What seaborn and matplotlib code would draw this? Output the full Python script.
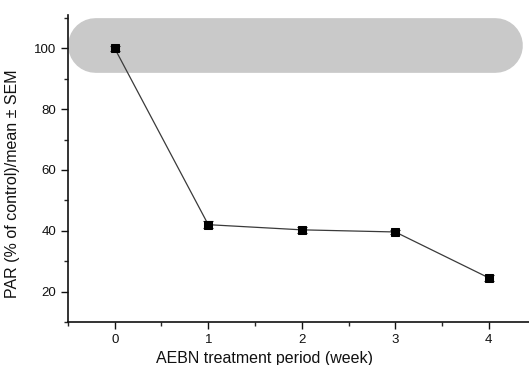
import numpy as np
import pandas as pd
import matplotlib
matplotlib.use('Agg')
import matplotlib.pyplot as plt
from matplotlib.ticker import MultipleLocator
import seaborn as sns

# values
weeks = [0, 1, 2, 3, 4]
par_mean = [100.0, 42.0, 40.3, 39.6, 24.5]
par_sem = [0.8, 1.2, 0.9, 0.8, 0.9]
control_low = 92
control_high = 110

df = pd.DataFrame({'week': weeks, 'par': par_mean, 'sem': par_sem})

sns.set_style('ticks')
plt.rcParams['font.family'] = ['Liberation Sans', 'DejaVu Sans']

fig = plt.figure(figsize=(5.29, 3.65), dpi=100)
ax = fig.add_axes([0.1285, 0.118, 0.8715, 0.841])
ax.set_xlim(-0.5, 4.43)
ax.set_ylim(10, 111)

# grey control band (rounded ends) drawn as a thick line with round caps
fig.canvas.draw()
y0 = ax.transData.transform((0, control_low))[1]
y1 = ax.transData.transform((0, control_high))[1]
band_px = y1 - y0
band_pt = band_px * 72 / fig.dpi
# cap radius in data units along x
px_per_x = ax.transData.transform((1, 0))[0] - ax.transData.transform((0, 0))[0]
r = (band_px / 2) / px_per_x
ax.plot([-0.5 + r, 4.36 - r], [(control_low + control_high) / 2] * 2,
        color='#c9c9c9', lw=band_pt, solid_capstyle='round', zorder=0)

sns.lineplot(data=df, x='week', y='par', ax=ax, color='#3a3a3a', lw=0.9,
             marker='s', markersize=6, markerfacecolor='black',
             markeredgecolor='black', zorder=3)
ax.errorbar(df['week'], df['par'], yerr=df['sem'], fmt='none',
            ecolor='#222222', elinewidth=0.8, capsize=3.5, capthick=0.8, zorder=2)

sns.despine(ax=ax)
ax.xaxis.set_major_locator(MultipleLocator(1))
ax.xaxis.set_minor_locator(MultipleLocator(0.5))
ax.yaxis.set_major_locator(MultipleLocator(20))
ax.yaxis.set_minor_locator(MultipleLocator(10))
ax.tick_params(which='major', direction='out', length=5, width=1, labelsize=9.5, colors='#111111')
ax.tick_params(which='minor', direction='out', length=3, width=1)
for s in ['left', 'bottom']:
    ax.spines[s].set_linewidth(1.2)
    ax.spines[s].set_color('#111111')

ax.set_xlabel('AEBN treatment period (week)', fontsize=11.5, color='#111111')
ax.xaxis.set_label_coords(0.427, -0.095)
ax.set_ylabel('PAR (% of control)/mean \u00b1 SEM', fontsize=11.5, color='#111111')
ax.yaxis.set_label_coords(-0.105, 0.45)

fig.savefig('out.png', dpi=100)
